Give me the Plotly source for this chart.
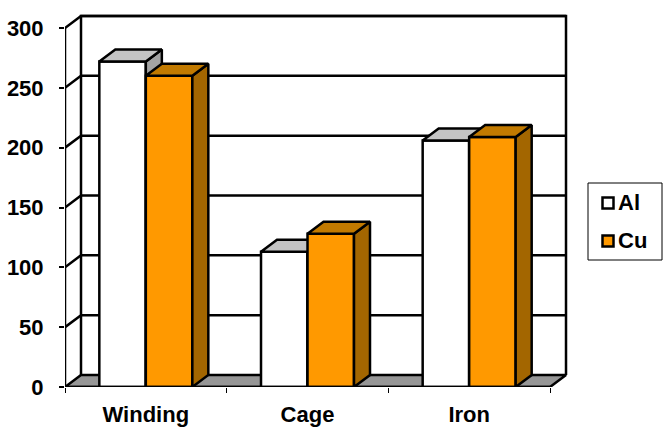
import plotly.graph_objects as go

categories = ["Winding", "Cage", "Iron"]
al_values = [272, 113, 206]
cu_values = [260, 128, 209]
y_ticks = [0, 50, 100, 150, 200, 250, 300]
series_names = ["Al", "Cu"]

W, H = 671, 427
L, R, T, B = 65, 96, 6, 40
PX_PER_CAT = 161.67
PX_PER_VAL = 359 / 300
DX = 16 / PX_PER_CAT
DY = 12 / PX_PER_VAL
BAR_W = 46.5 / PX_PER_CAT
x_range = [-0.5, -0.5 + (W - R - L) / PX_PER_CAT]
y_range = [0, (H - B - T) / PX_PER_VAL]
x0, x1 = -0.5, 2.5
y1 = 300
FONT = dict(family="Liberation Sans, Arial, sans-serif", size=22, color="black")
AXIS_FONT = dict(family="Liberation Sans, Arial, sans-serif", size=22, color="black")
LINE = dict(color="black", width=2.5)

fig = go.Figure()


def poly(xs, ys, fill, axes, width=2.5):
    fig.add_trace(go.Scatter(
        x=xs, y=ys, mode="lines", fill="toself" if fill else None, fillcolor=fill,
        line=dict(color="black", width=width, simplify=False), hoverinfo="skip",
        showlegend=False, cliponaxis=False, xaxis=axes[0], yaxis=axes[1]))


base = ("x", "y")
# floor
poly([x0, x0 + DX, x1 + DX, x1, x0], [0, DY, DY, 0, 0], "#969696", base)
# back wall frame and right edge
poly([x0 + DX, x0 + DX, x1 + DX, x1 + DX], [DY, y1 + DY, y1 + DY, DY], None, base)
# front vertical axis
poly([x0, x0], [0, y1], None, base)
# gridlines on side and back wall
for t in y_ticks[1:]:
    poly([x0, x0 + DX, x1 + DX], [t, t + DY, t + DY], None, base)


def series(values, name, front, top, side, axes):
    xpos = []
    for i, v in enumerate(values):
        c = i + (-BAR_W / 2 if name == "Al" else BAR_W / 2)
        xpos.append(c)
        l, r = c - BAR_W / 2, c + BAR_W / 2
        poly([r, r + DX, r + DX, r, r], [0, DY, v + DY, v, 0], side, axes)
        poly([l, l + DX, r + DX, r, l], [v, v + DY, v + DY, v, v], top, axes)
    fig.add_trace(go.Bar(x=xpos, y=values, width=BAR_W, name=name, marker=dict(color=front, line=LINE),
                         showlegend=False, xaxis=axes[0], yaxis=axes[1]))


series(al_values, "Al", "#ffffff", "#c4c4c4", "#a3a3a3", ("x2", "y2"))
series(cu_values, "Cu", "#ff9900", "#c27a00", "#a36600", ("x3", "y3"))
# front floor edge, above the bars
poly([x0, x1], [0, 0], None, ("x3", "y3"))

plot_w, plot_h = W - L - R, H - T - B
px = lambda p: (p - L) / plot_w
py = lambda p: (H - B - p) / plot_h

shapes = [dict(type="rect", xref="paper", yref="paper", x0=px(588), x1=px(662), y0=py(260), y1=py(183),
               line=dict(color="black", width=1), fillcolor="white")]
annotations = []
for name, color, cy in zip(series_names, ["#ffffff", "#ff9900"], [203, 241]):
    shapes.append(dict(type="rect", xref="paper", yref="paper", x0=px(602.5), x1=px(613.5), y0=py(cy + 5.5), y1=py(cy - 5.5),
                       line=dict(color="black", width=2.5), fillcolor=color))
    annotations.append(dict(text=f"<b>{name}</b>", xref="paper", yref="paper", x=px(619), y=py(cy - 1), xanchor="left",
                            yanchor="middle", showarrow=False, font=FONT, xshift=-3))

layout = dict(
    width=W, height=H, autosize=False, margin=dict(l=L, r=R, t=T, b=B, autoexpand=False),
    paper_bgcolor="white", plot_bgcolor="white", showlegend=False,
    shapes=shapes, annotations=annotations,
    xaxis=dict(range=x_range, tickmode="array", tickvals=[0, 1, 2], automargin=False,
               ticktext=[f"<b>{c}</b>" for c in categories], ticks="", showgrid=False, zeroline=False,
               showline=False, tickfont=AXIS_FONT, ticklabelstandoff=12,
               minor=dict(tickmode="array", tickvals=[-0.5, 0.5, 1.5, 2.5], ticks="outside", ticklen=5, tickwidth=1,
                          tickcolor="black", showgrid=False)),
    yaxis=dict(range=y_range, tickmode="array", tickvals=y_ticks, ticktext=[f"<b>{t}</b>" for t in y_ticks],
               ticks="outside", ticklen=5, tickwidth=2, tickcolor="black", showgrid=False, zeroline=False,
               showline=False, tickfont=AXIS_FONT, ticklabelstandoff=11, automargin=False),
)
for n in (2, 3):
    layout[f"xaxis{n}"] = dict(range=x_range, overlaying="x", visible=False)
    layout[f"yaxis{n}"] = dict(range=y_range, overlaying="y", visible=False)
fig.update_layout(**layout)
fig.write_html("out.html", config=dict(displayModeBar=False),
               post_script="document.body.style.margin='0';document.body.style.overflow='hidden';")
